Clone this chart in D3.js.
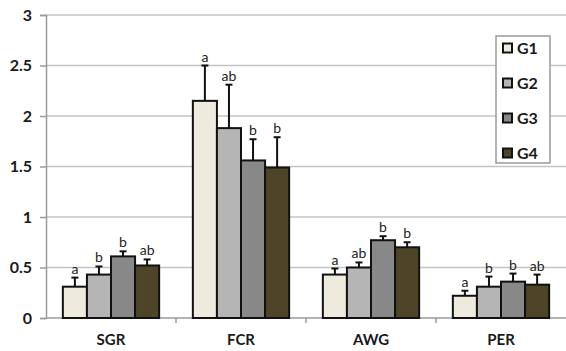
<!DOCTYPE html>
<html>
<head>
<meta charset="utf-8">
<script src="https://cdn.jsdelivr.net/npm/d3@7"></script>
<style>
  body { margin: 0; background: #fff; }
  svg { display: block; font-family: Lato, "Open Sans", sans-serif; }
</style>
</head>
<body>
<svg id="chart"></svg>
<script>
const categories = ['SGR', 'FCR', 'AWG', 'PER'];
const groups = ['G1', 'G2', 'G3', 'G4'];
const colors = ['#eeebde', '#b5b5b5', '#888888', '#4e4528'];
// means per group, in category order
const G1 = [0.31, 2.15, 0.43, 0.22];
const G2 = [0.43, 1.88, 0.50, 0.31];
const G3 = [0.61, 1.56, 0.77, 0.36];
const G4 = [0.52, 1.49, 0.70, 0.33];
// top of the error bars
const G1err = [0.40, 2.50, 0.49, 0.27];
const G2err = [0.51, 2.31, 0.55, 0.41];
const G3err = [0.66, 1.77, 0.81, 0.44];
const G4err = [0.58, 1.79, 0.75, 0.43];
// significance letters
const G1sig = ['a', 'a', 'a', 'a'];
const G2sig = ['b', 'ab', 'ab', 'b'];
const G3sig = ['b', 'b', 'b', 'b'];
const G4sig = ['ab', 'b', 'b', 'ab'];
const yTicks = [0, 0.5, 1, 1.5, 2, 2.5, 3];

const means = [G1, G2, G3, G4];
const errs = [G1err, G2err, G3err, G4err];
const sigs = [G1sig, G2sig, G3sig, G4sig];

const DATA = [];
categories.forEach((c, ci) => {
    groups.forEach((g, gi) => {
        DATA.push({ cat: c, group: g, gi, value: means[gi][ci], err: errs[gi][ci], sig: sigs[gi][ci] });
    });
});

const outerWidth = 566;
const outerHeight = 351;
const margin = { top: 15, left: 46, bottom: 33, right: 0 };
const innerWidth = outerWidth - margin.left - margin.right;
const innerHeight = outerHeight - margin.top - margin.bottom;

const svg = d3.select('#chart')
    .attr('width', outerWidth)
    .attr('height', outerHeight)
  .append('g')
    .attr('transform', `translate(${margin.left},${margin.top})`);

const xScale = d3.scaleBand()
    .domain(categories)
    .range([0, innerWidth]);

const xInner = d3.scaleBand()
    .domain(groups)
    .range([0, xScale.bandwidth()])
    .paddingOuter(0.7)
    .paddingInner(0);

const yScale = d3.scaleLinear()
    .domain([0, 3])
    .range([innerHeight, 0]);

// gridlines
svg.selectAll('.grid')
    .data(yTicks.filter(d => d > 0))
    .join('line')
        .classed('grid', true)
        .attr('x1', 0)
        .attr('x2', innerWidth)
        .attr('y1', d => yScale(d))
        .attr('y2', d => yScale(d))
        .attr('stroke', '#c4c4c4')
        .attr('stroke-width', 1.5);

// y axis
const yAxis = d3.axisLeft(yScale)
    .tickValues(yTicks)
    .tickSize(6)
    .tickPadding(8)
    .tickFormat(d => d);

const yAxisG = svg.append('g').call(yAxis)
    .attr('font-family', null)
    .attr('font-size', null);
yAxisG.select('.domain').attr('stroke', '#9a9a9a').attr('stroke-width', 1.5);
yAxisG.selectAll('.tick line').attr('stroke', '#9a9a9a').attr('stroke-width', 1.5);
yAxisG.selectAll('.tick text')
    .attr('fill', '#1a1a1a')
    .style('font-size', '16px')
    .style('font-weight', 'bold');

// x axis
const xAxisG = svg.append('g')
    .attr('transform', `translate(0,${innerHeight})`);
xAxisG.append('line')
    .attr('x1', 0)
    .attr('x2', innerWidth)
    .attr('stroke', '#9a9a9a')
    .attr('stroke-width', 1.5);
xAxisG.selectAll('.xtick')
    .data(categories.slice(1))
    .join('line')
        .classed('xtick', true)
        .attr('x1', d => xScale(d))
        .attr('x2', d => xScale(d))
        .attr('y1', 0)
        .attr('y2', 5)
        .attr('stroke', '#9a9a9a')
        .attr('stroke-width', 1.5);
xAxisG.selectAll('.xlabel')
    .data(categories)
    .join('text')
        .classed('xlabel', true)
        .attr('x', d => xScale(d) + xScale.bandwidth() / 2)
        .attr('y', 27)
        .attr('text-anchor', 'middle')
        .attr('fill', '#1a1a1a')
        .style('font-size', '15px')
        .style('font-weight', 'bold')
        .text(d => d);

const barX = d => xScale(d.cat) + xInner(d.group);

// error bars
svg.selectAll('.err')
    .data(DATA)
    .join('line')
        .classed('err', true)
        .attr('x1', d => barX(d) + xInner.bandwidth() / 2)
        .attr('x2', d => barX(d) + xInner.bandwidth() / 2)
        .attr('y1', d => yScale(d.value))
        .attr('y2', d => yScale(d.err))
        .attr('stroke', '#111')
        .attr('stroke-width', 2);
svg.selectAll('.cap')
    .data(DATA)
    .join('line')
        .classed('cap', true)
        .attr('x1', d => barX(d) + xInner.bandwidth() / 2 - 3.5)
        .attr('x2', d => barX(d) + xInner.bandwidth() / 2 + 3.5)
        .attr('y1', d => yScale(d.err))
        .attr('y2', d => yScale(d.err))
        .attr('stroke', '#111')
        .attr('stroke-width', 2);

// bars
svg.selectAll('.bar')
    .data(DATA)
    .join('rect')
        .classed('bar', true)
        .attr('x', barX)
        .attr('width', xInner.bandwidth())
        .attr('y', d => yScale(d.value))
        .attr('height', d => innerHeight - yScale(d.value))
        .attr('fill', d => colors[d.gi])
        .attr('stroke', '#111')
        .attr('stroke-width', 2);

// letters
svg.selectAll('.sig')
    .data(DATA)
    .join('text')
        .classed('sig', true)
        .attr('x', d => barX(d) + xInner.bandwidth() / 2)
        .attr('y', d => yScale(d.err) - 4)
        .attr('text-anchor', 'middle')
        .attr('fill', '#222')
        .style('font-size', '14px')
        .text(d => d.sig);

// legend
const legend = svg.append('g')
    .attr('transform', `translate(${496 - margin.left},${36 - margin.top})`);
legend.append('rect')
    .attr('width', 54)
    .attr('height', 127)
    .attr('fill', '#fff')
    .attr('stroke', '#9a9a9a')
    .attr('stroke-width', 1.5);
const item = legend.selectAll('.item')
    .data(groups)
    .join('g')
        .classed('item', true)
        .attr('transform', (d, i) => `translate(0,${12 + i * 35})`);
item.append('rect')
    .attr('x', 7)
    .attr('y', -4.5)
    .attr('width', 9)
    .attr('height', 9)
    .attr('fill', (d, i) => colors[i])
    .attr('stroke', '#111')
    .attr('stroke-width', 2);
item.append('text')
    .attr('x', 21)
    .attr('y', 5.5)
    .attr('fill', '#1a1a1a')
    .style('font-size', '16px')
    .style('font-weight', 'bold')
    .text(d => d);
</script>
</body>
</html>
